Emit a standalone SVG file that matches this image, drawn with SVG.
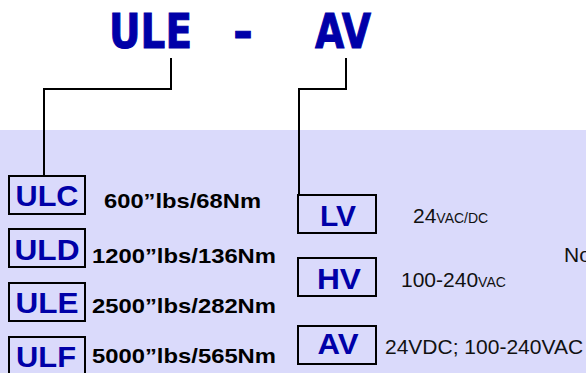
<svg xmlns="http://www.w3.org/2000/svg" width="586" height="373" viewBox="0 0 586 373">
<style>
.title{font-family:"DejaVu Sans",Verdana,sans-serif;font-weight:bold;font-size:48px;fill:#0000A8;stroke:#0000A8;stroke-width:1}
.code{font-family:"Liberation Sans",Arial,sans-serif;font-weight:bold;font-size:30px;fill:#0000A8;text-anchor:middle}
.spec{font-family:"Liberation Sans",Arial,sans-serif;font-weight:bold;font-size:21px;fill:#000}
.volt{font-family:"Liberation Sans",Arial,sans-serif;font-size:21px;fill:#111}
.sm{font-size:14px}
.box{fill:none;stroke:#000;stroke-width:2}
.wire{fill:none;stroke:#000;stroke-width:2}
</style>
<rect x="0" y="130" width="586" height="243" fill="#DADAFB"/>
<g id="title">
<text class="title" x="109" y="48" textLength="83" lengthAdjust="spacingAndGlyphs">ULE</text>
<text class="title" x="243" y="48" text-anchor="middle">-</text>
<text class="title" x="315" y="48" textLength="56" lengthAdjust="spacingAndGlyphs">AV</text>
</g>
<g id="connectors">
<polyline class="wire" points="171,58 171,89 44,89 44,176"/>
<polyline class="wire" points="346,58 346,89 299,89 299,195"/>
</g>
<g id="ULC">
<rect class="box" x="9" y="176" width="76" height="38"/>
<text class="code" x="47" y="206" textLength="63" lengthAdjust="spacingAndGlyphs">ULC</text>
<text class="spec" x="104" y="208" textLength="157" lengthAdjust="spacingAndGlyphs">600”lbs/68Nm</text>
</g>
<g id="ULD">
<rect class="box" x="9" y="229" width="76" height="38"/>
<text class="code" x="47" y="260" textLength="65" lengthAdjust="spacingAndGlyphs">ULD</text>
<text class="spec" x="92" y="263" textLength="184" lengthAdjust="spacingAndGlyphs">1200”lbs/136Nm</text>
</g>
<g id="ULE">
<rect class="box" x="9" y="283" width="76" height="38"/>
<text class="code" x="47" y="313" textLength="63" lengthAdjust="spacingAndGlyphs">ULE</text>
<text class="spec" x="92" y="313" textLength="184" lengthAdjust="spacingAndGlyphs">2500”lbs/282Nm</text>
</g>
<g id="ULF">
<rect class="box" x="9" y="337" width="76" height="38"/>
<text class="code" x="46" y="367" textLength="60" lengthAdjust="spacingAndGlyphs">ULF</text>
<text class="spec" x="92" y="363" textLength="184" lengthAdjust="spacingAndGlyphs">5000”lbs/565Nm</text>
</g>
<g id="LV">
<rect class="box" x="298" y="195" width="78" height="38"/>
<text class="code" x="338" y="226" textLength="36" lengthAdjust="spacingAndGlyphs">LV</text>
<text class="volt" x="413" y="223">24<tspan class="sm">VAC/DC</tspan></text>
</g>
<g id="HV">
<rect class="box" x="298" y="258" width="78" height="38"/>
<text class="code" x="339" y="289" textLength="44" lengthAdjust="spacingAndGlyphs">HV</text>
<text class="volt" x="401" y="287">100-240<tspan class="sm">VAC</tspan></text>
</g>
<g id="AV">
<rect class="box" x="298" y="326" width="78" height="38"/>
<text class="code" x="338" y="354" textLength="41" lengthAdjust="spacingAndGlyphs">AV</text>
<text class="volt" x="385" y="354">24VDC; 100-240VAC</text>
</g>
<g id="note">
<text class="volt" x="564" y="262">No</text>
</g>
</svg>
